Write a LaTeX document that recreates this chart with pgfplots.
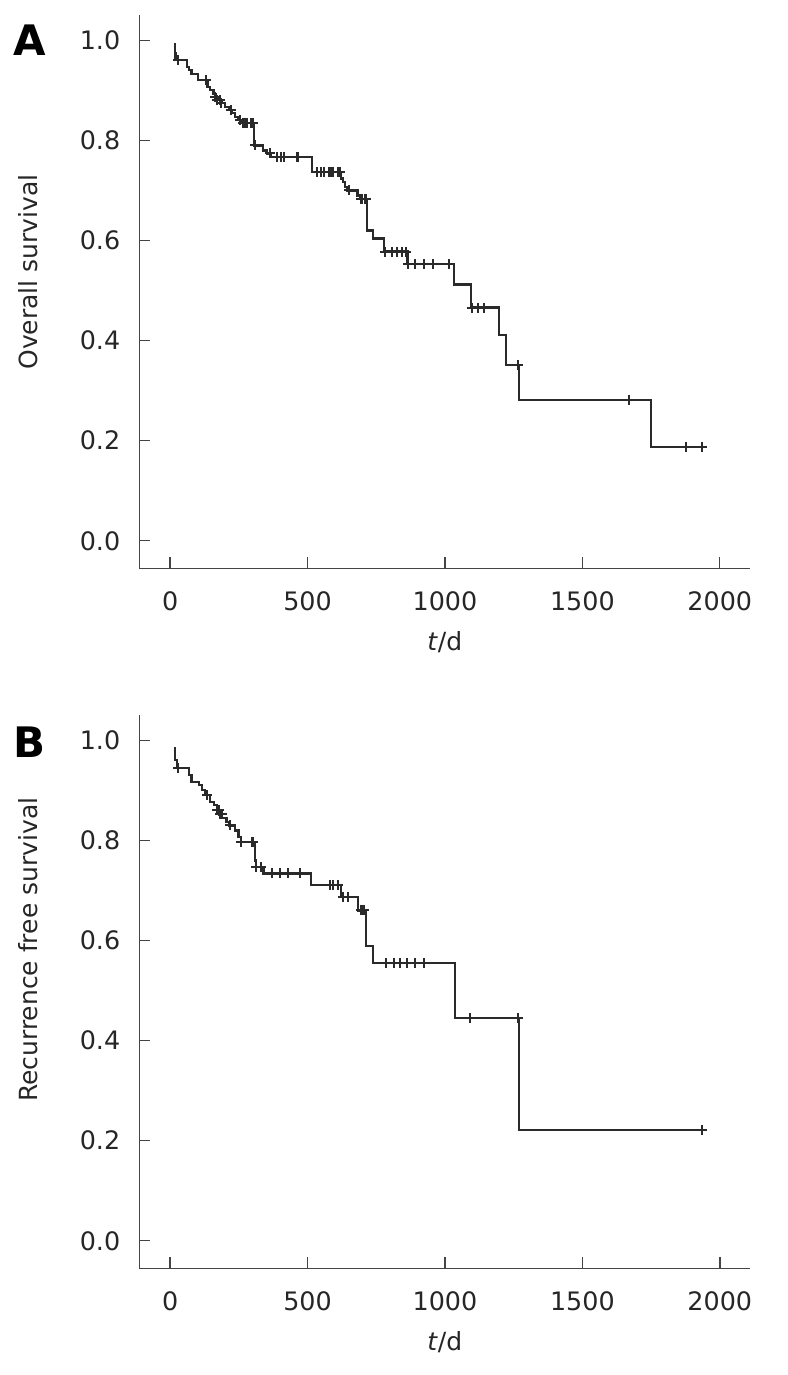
\documentclass[border=0pt]{standalone}
\usepackage{pgfplots}
\pgfplotsset{compat=1.18}
\usepackage{fontspec}
\setmainfont{DejaVu Sans}
\definecolor{curve}{HTML}{2A2A2A}
\definecolor{axl}{HTML}{444444}
\pgfplotsset{
  kmaxis/.style={
    scale only axis, width=305.5pt, height=276.5pt,
    xmin=-112, xmax=2111, ymin=-0.055, ymax=1.05,
    axis x line=bottom, axis y line=left,
    axis line style={-, draw=axl, line width=0.7pt},
    tick align=inside, major tick length=5.5pt,
    tick style={draw=axl, line width=0.7pt},
    xtick={0,500,1000,1500,2000},
    ytick={0,0.2,0.4,0.6,0.8,1.0},
    /pgf/number format/assume math mode=true,
    xticklabel style={/pgf/number format/1000 sep={}, yshift=-8pt},
    yticklabel style={/pgf/number format/.cd, fixed, fixed zerofill, precision=1, /tikz/.cd, xshift=-6pt},
    every tick label/.append style={font=\fontsize{12.7}{15}\selectfont, text=black!85},
    label style={font=\fontsize{12.5}{15}\selectfont, text=black!85},
    xlabel={\textit{t}/d},
    xlabel style={at={(axis description cs:0.5,0)}, anchor=base, yshift=-40.9pt},
    clip=false,
  },
  kmline/.style={const plot, color=curve, line width=1.1pt, mark=none},
  kmcens/.style={only marks, mark=+, mark size=2.5pt, color=curve, mark options={line width=1pt}},
}
\begin{document}
\begin{tikzpicture}
\useasboundingbox (0,0) rectangle (393.5pt,-687.5pt);
% ---------------- Panel A ----------------
\begin{axis}[kmaxis, at={(69.65pt,-284.15pt)}, anchor=south west,
  ylabel={Overall survival},
  ylabel style={at={(axis description cs:-0.1674,0.536)}, anchor=base, rotate=0}]
\addplot[kmline] coordinates {
(15,0.992) (17,0.975) (20,0.961) (62,0.947) (70,0.940) (78,0.933) (103,0.920)
(136,0.907) (146,0.900) (158,0.893) (168,0.887) (178,0.880) (188,0.874) (200,0.867)
(214,0.860) (225,0.854) (237,0.847) (249,0.840) (258,0.834) (306,0.790) (338,0.780)
(352,0.774) (368,0.767) (516,0.737) (622,0.724) (630,0.717) (637,0.707) (645,0.700)
(682,0.690) (690,0.683) (716,0.620) (738,0.604) (779,0.578) (864,0.553) (1033,0.512)
(1094,0.466) (1198,0.411) (1223,0.351) (1268,0.282) (1749,0.188) (1940,0.188)
};
\addplot[kmcens] coordinates {
(30,0.961) (130,0.920) (165,0.887) (172,0.880) (180,0.880) (185,0.874) (220,0.860)
(255,0.840) (265,0.834) (272,0.834) (280,0.834) (295,0.834) (303,0.834) (309,0.790)
(364,0.774) (388,0.767) (403,0.767) (415,0.767) (460,0.767) (466,0.767) (534,0.737)
(548,0.737) (560,0.737) (578,0.737) (585,0.737) (592,0.737) (611,0.737) (619,0.737)
(652,0.700) (695,0.683) (700,0.683) (708,0.683) (713,0.683) (782,0.578) (807,0.578)
(825,0.578) (843,0.578) (859,0.578) (867,0.553) (892,0.553) (924,0.553) (958,0.553)
(1013,0.553) (1100,0.466) (1120,0.466) (1143,0.466) (1265,0.351) (1670,0.282)
(1878,0.188) (1936,0.188)
};
\node[font=\bfseries\fontsize{21}{24}\selectfont, anchor=base] at (axis description cs:-0.1797,0.928) {A};
\end{axis}
% ---------------- Panel B ----------------
\begin{axis}[kmaxis, at={(69.65pt,-634.15pt)}, anchor=south west,
  ylabel={Recurrence free survival},
  ylabel style={at={(axis description cs:-0.1674,0.576)}, anchor=base, rotate=0}]
\addplot[kmline] coordinates {
(15,0.985) (18,0.960) (25,0.945) (70,0.930) (78,0.917) (105,0.910) (115,0.900)
(128,0.890) (146,0.877) (160,0.870) (170,0.860) (180,0.852) (190,0.845) (205,0.837)
(215,0.830) (237,0.820) (249,0.807) (258,0.797) (308,0.760) (312,0.747) (340,0.734)
(513,0.711) (621,0.687) (685,0.660) (713,0.589) (737,0.555) (1037,0.445) (1270,0.222)
(1943,0.222)
};
\addplot[kmcens] coordinates {
(30,0.945) (133,0.890) (172,0.860) (178,0.860) (183,0.852) (188,0.852) (218,0.830)
(258,0.797) (297,0.797) (303,0.797) (314,0.747) (330,0.747) (371,0.734) (400,0.734)
(430,0.734) (473,0.734) (582,0.711) (593,0.711) (611,0.711) (630,0.687) (648,0.687)
(693,0.660) (700,0.660) (706,0.660) (785,0.555) (813,0.555) (837,0.555) (861,0.555)
(892,0.555) (924,0.555) (1092,0.445) (1266,0.445) (1935,0.222)
};
\node[font=\bfseries\fontsize{21}{24}\selectfont, anchor=base] at (axis description cs:-0.1797,0.9246) {B};
\end{axis}
\end{tikzpicture}
\end{document}
